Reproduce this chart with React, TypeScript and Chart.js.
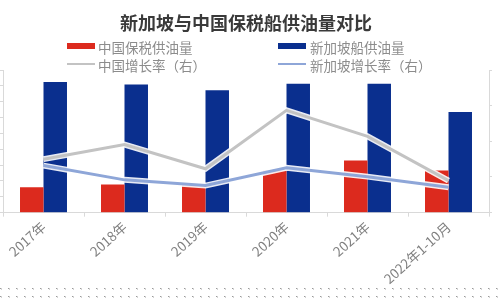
import React, { useEffect, useRef } from "react";
import { Chart, registerables } from "chart.js";

Chart.register(...registerables);

const categories = ["2017年", "2018年", "2019年", "2020年", "2021年", "2022年1-10月"];
const chinaSupply = [160, 177, 175, 266, 329, 266];
const singaporeSupply = [825, 808, 772, 814, 814, 635];
const chinaGrowth = [15.0, 19.1, 12.3, 28.7, 21.4, 9.0];
const singaporeGrowth = [13.2, 9.2, 7.6, 12.6, 10.1, 7.1];

const RED = "#dc2a1e";
const BLUE = "#0a2f8e";
const GREY_LINE = "#c3c3c3";
const BLUE_LINE = "#8ea6d8";
const FONT = "'Noto Sans CJK SC', 'Noto Sans', sans-serif";

const dotsPlugin = {
  id: "dots",
  afterDraw(chart: any) {
    const ctx = chart.ctx;
    ctx.save();
    for (const y of [288, 296]) {
      for (let x = 0; x < 500; x += 8) {
        ctx.fillStyle = "#9a9a9a";
        ctx.fillRect(x, y, 1, 1);
        ctx.fillStyle = "#d2d2d2";
        ctx.fillRect(x + 1, y + 1, 1, 1);
        ctx.fillRect(x + 1, y, 1, 1);
      }
    }
    ctx.restore();
  },
};

export default function App() {
  const ref = useRef<HTMLCanvasElement>(null);
  useEffect(() => {
    if (!ref.current) return;
    Chart.defaults.font.family = FONT;
    const chart = new Chart(ref.current, {
      type: "bar",
      data: {
        labels: categories,
        datasets: [
          { type: "bar", label: "中国保税供油量", data: chinaSupply, backgroundColor: RED, yAxisID: "y", order: 5, categoryPercentage: 0.58, barPercentage: 1 },
          { type: "bar", label: "新加坡船供油量", data: singaporeSupply, backgroundColor: BLUE, yAxisID: "y", order: 5, categoryPercentage: 0.58, barPercentage: 1 },
          { type: "line", label: "_w1", data: chinaGrowth, borderColor: "rgba(255,255,255,0.9)", borderWidth: 6, pointRadius: 0, yAxisID: "y1", order: 3 },
          { type: "line", label: "中国增长率（右）", data: chinaGrowth, borderColor: GREY_LINE, borderWidth: 3, pointRadius: 0, yAxisID: "y1", order: 2 },
          { type: "line", label: "_w2", data: singaporeGrowth, borderColor: "rgba(255,255,255,0.9)", borderWidth: 6, pointRadius: 0, yAxisID: "y1", order: 3 },
          { type: "line", label: "新加坡增长率（右）", data: singaporeGrowth, borderColor: BLUE_LINE, borderWidth: 3, pointRadius: 0, yAxisID: "y1", order: 1 },
        ] as any,
      },
      options: {
        animation: false,
        responsive: false,
        layout: { padding: { top: 70, left: 0, right: 8, bottom: 11 } },
        plugins: { legend: { display: false }, title: { display: false }, tooltip: { enabled: false } },
        scales: {
          x: {
            grid: { display: true, drawOnChartArea: false, drawTicks: true, tickLength: 4, color: "#d9d9d9", offset: true },
            border: { color: "#d9d9d9" },
            ticks: { color: "#7f7f7f", font: { size: 13.5, family: FONT }, maxRotation: 42, minRotation: 42, padding: 2, autoSkip: false },
          },
          y: {
            position: "left",
            min: 0,
            max: 900,
            ticks: { display: false, stepSize: 100 },
            grid: { drawOnChartArea: false, drawTicks: true, tickLength: 3, color: "#d9d9d9" },
            border: { color: "#d9d9d9" },
          },
          y1: {
            position: "right",
            min: 0,
            max: 40,
            ticks: { display: false, stepSize: 10 },
            grid: { drawOnChartArea: false, drawTicks: true, tickLength: 3, color: "#d9d9d9" },
            border: { color: "#d9d9d9" },
          },
        },
      },
      plugins: [dotsPlugin],
    });
    return () => chart.destroy();
  }, []);

  const txt: React.CSSProperties = { position: "absolute", fontFamily: FONT, fontSize: 13.5, color: "#8c8c8c", lineHeight: "16px", whiteSpace: "nowrap" };
  return (
    <div style={{ position: "absolute", left: 0, top: 0, width: 500, height: 300, background: "#fff", overflow: "hidden" }}>
      <canvas ref={ref} width={500} height={300} style={{ position: "absolute", left: 0, top: 0 }} />
      <div style={{ position: "absolute", left: 0, width: 492, top: 10, textAlign: "center", fontFamily: FONT, fontSize: 18, fontWeight: 600, color: "#3a3a3a", lineHeight: "24px" }}>
        新加坡与中国保税船供油量对比
      </div>
      <div style={{ position: "absolute", left: 67, top: 43, width: 28, height: 6, background: RED }} />
      <div style={{ ...txt, left: 98, top: 39 }}>中国保税供油量</div>
      <div style={{ position: "absolute", left: 278, top: 43, width: 28, height: 6, background: BLUE }} />
      <div style={{ ...txt, left: 310, top: 39 }}>新加坡船供油量</div>
      <div style={{ position: "absolute", left: 67, top: 63, width: 28, height: 2, background: GREY_LINE }} />
      <div style={{ ...txt, left: 98, top: 57 }}>中国增长率（右）</div>
      <div style={{ position: "absolute", left: 278, top: 63, width: 28, height: 2, background: BLUE_LINE }} />
      <div style={{ ...txt, left: 310, top: 57 }}>新加坡增长率（右）</div>
    </div>
  );
}
